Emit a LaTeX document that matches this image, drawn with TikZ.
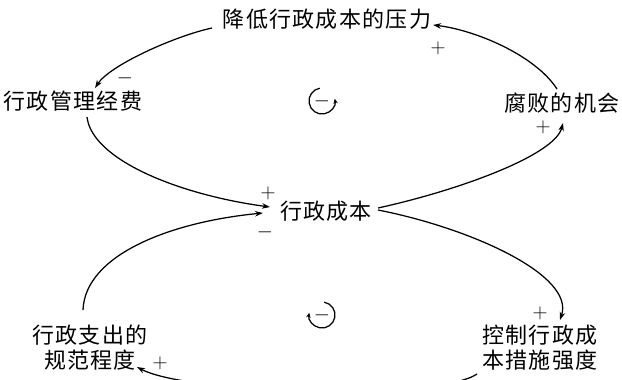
\documentclass[tikz,border=0pt]{standalone}
\usepackage{fontspec}
\newfontfamily\cjk[LetterSpace=6]{Noto Sans CJK SC}
\usetikzlibrary{arrows.meta,calc}
\begin{document}
\begin{tikzpicture}[x=1pt,y=-1pt,
  lbl/.style={font=\cjk\fontsize{22}{25}\selectfont, inner sep=0pt, align=center},
  arr/.style={line width=1.25pt, -{Stealth[length=8pt,width=5.5pt]}},
  sgn/.style={font=\fontsize{20}{20}\selectfont, inner sep=0pt},
  loopc/.style={line width=1.25pt, -{Stealth[length=5pt,width=4.5pt]}}]
\useasboundingbox (0,0) rectangle (622,380);
\node[lbl] (top) at (327,19) {降低行政成本的压力};
\node[lbl] (left) at (73,101) {行政管理经费};
\node[lbl] (right) at (562,103) {腐败的机会};
\node[lbl] (cost) at (326,211) {行政成本};
\node[lbl] (norm) at (90,348) {行政支出的\\规范程度};
\node[lbl] (ctrl) at (540,348) {控制行政成\\本措施强度};

\coordinate (p1s) at (557,89);  \coordinate (p1e) at (433,25);
\coordinate (p2s) at (212,28);  \coordinate (p2e) at (95,88);
\coordinate (p3s) at (87,117);  \coordinate (p3e) at (270,207);
\coordinate (p4s) at (378,208); \coordinate (p4e) at (563,123);
\coordinate (p5s) at (378,210); \coordinate (p5e) at (560,320);
\coordinate (p6s) at (477,374); \coordinate (p6e) at (137,367);
\coordinate (p7s) at (83,310);  \coordinate (p7e) at (263,213);

\draw[arr] (p1s) .. controls (535,55) and (475,30) .. (p1e);
\draw[arr] (p2s) .. controls (175,36) and (110,65) .. (p2e);
\draw[arr] (p3s) .. controls (92,160) and (180,195) .. (p3e);
\draw[arr] (p4s) .. controls (460,190) and (555,155) .. (p4e);
\draw[arr] (p5s) .. controls (470,228) and (575,275) .. (p5e);
\draw[arr] (p6s) .. controls (440,400) and (190,395) .. (p6e);
\draw[arr] (p7s) .. controls (85,255) and (170,222) .. (p7e);

\node[sgn] (s1) at (438,48) {$+$};
\node[sgn] (s2) at (125,78) {$-$};
\node[sgn] (s3) at (543,127) {$+$};
\node[sgn] (s4) at (268,193) {$+$};
\node[sgn] (s5) at (265,232) {$-$};
\node[sgn] (s6) at (540,313) {$+$};
\node[sgn] (s7) at (160,363) {$+$};

\node[sgn] (la) at (322,101) {$-$};
\node[sgn] (lb) at (322,315) {$-$};
\begin{scope}[shift={(la.center)}, y=1pt]
\draw[loopc] (100:13) arc[start angle=100, end angle=370, radius=13];
\end{scope}
\begin{scope}[shift={(lb.center)}, y=1pt]
\draw[loopc] (80:13) arc[start angle=80, end angle=-190, radius=13];
\end{scope}
\end{tikzpicture}
\end{document}
